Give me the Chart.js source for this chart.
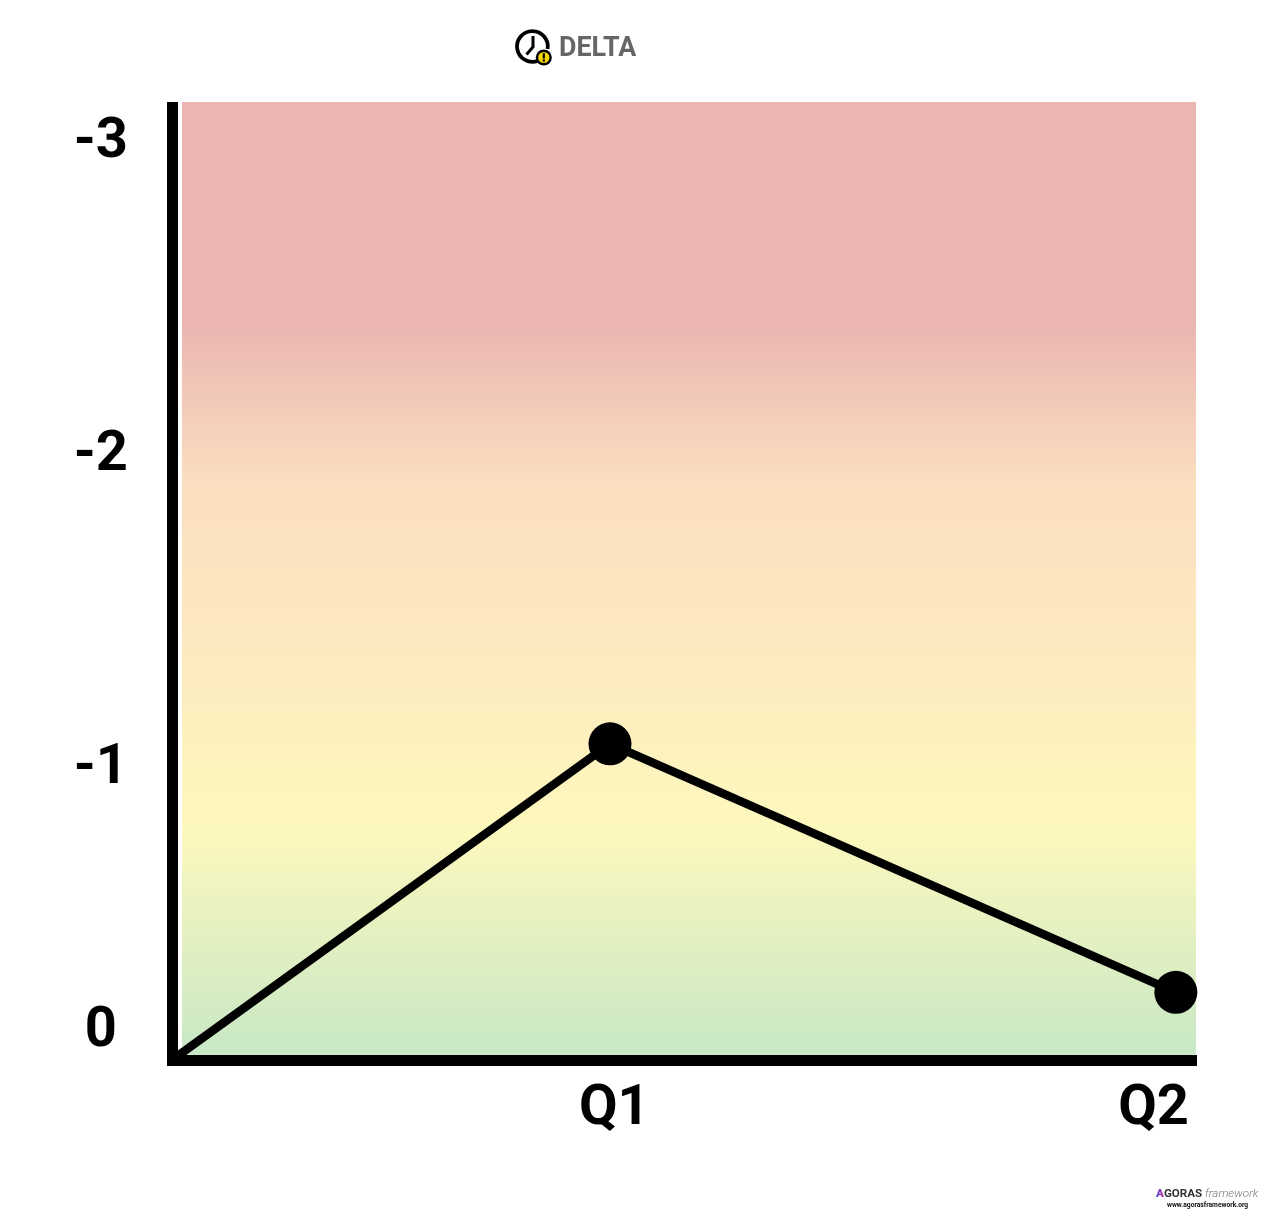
<!DOCTYPE html>
<html><head><meta charset="utf-8">
<script src="https://cdn.jsdelivr.net/npm/chart.js@4"></script>
<style>
html,body{margin:0;padding:0;background:#fff;width:1280px;height:1219px;overflow:hidden}
canvas{position:absolute;left:0;top:0}
.t{position:absolute;white-space:nowrap;font-family:Roboto,sans-serif}
</style></head><body>
<canvas id="c" width="1280" height="1219"></canvas>
<svg style="position:absolute;left:510px;top:25px" width="46" height="44" viewBox="510 25 46 44">
<path d="M538 60.8 A15.4 15.4 0 1 1 547.6 49" fill="none" stroke="#000" stroke-width="3.8"/>
<path d="M533 36 V47 L526.5 54.5" fill="none" stroke="#000" stroke-width="3"/>
<circle cx="543.8" cy="57.5" r="8" fill="#000"/><circle cx="543.8" cy="57.5" r="5.6" fill="#f5d800"/>
<rect x="542.7" y="53.3" width="2.2" height="5.2" fill="#000"/><rect x="542.7" y="59.4" width="2.2" height="2.2" fill="#000"/>
</svg>
<div class="t" style="left:559px;top:32px;font-size:26.8px;line-height:30px;font-weight:700;color:#666">DELTA</div>
<div class="t" style="left:1156px;top:1187px;font-size:11.6px;line-height:13px;color:#888"><span style="font-weight:900;background:linear-gradient(90deg,#3a4fd8,#d0209a);-webkit-background-clip:text;color:transparent">A</span><span style="font-weight:700;color:#333">GORAS</span> <i style="font-weight:300;color:#777">framework</i></div>
<div class="t" style="left:1167px;top:1201px;font-size:6.7px;line-height:8px;font-weight:700;color:#111">www.agorasframework.org</div>
<script>
const categories = ['', 'Q1', 'Q2'];
const xPositions = [0, 1, 2.292];
const seriesValues = [0, -0.99, -0.212];
const yTickLabels = ['-3', '-2', '-1', '0'];
const yTickLabelAt = [-2.871, -1.891, -0.911, -0.088];
const xTickLabels = ['Q1', 'Q2'];
const xTickLabelAt = [1.01, 2.241];
const xMax = 2.338;
const gradientStops = [[-3, '#ebb6b2'], [-2.3, '#ebb6b2'], [-1.8, '#fbdfc0'], [-1.45, '#fde6c0'], [-0.72, '#fdf8bd'], [-0.02, '#c8e8c6']];

const backdrop = {
  id: 'backdrop',
  beforeDatasetsDraw(chart) {
    const {ctx, chartArea: a, scales: {y}} = chart;
    const top = y.getPixelForValue(-3), bottom = y.getPixelForValue(-0.016);
    const g = ctx.createLinearGradient(0, top, 0, bottom);
    gradientStops.forEach(([v, c]) => g.addColorStop(Math.min(1, (y.getPixelForValue(v) - top) / (bottom - top)), c));
    ctx.save();
    ctx.fillStyle = g;
    ctx.fillRect(a.left + 10, top, a.right - a.left - 10, bottom - top);
    // the vertical axis stops level with the plot top, without Chart.js's half-width overhang
    ctx.clearRect(a.left - 8, top - 8, 16, 8);
    ctx.restore();
  }
};
const tickFont = {family: 'Roboto', weight: '700', size: 56};
new Chart(document.getElementById('c'), {
  type: 'scatter',
  plugins: [backdrop],
  data: {
    labels: categories,
    datasets: [{
      data: seriesValues.map((v, i) => ({x: xPositions[i], y: v})),
      showLine: true,
      borderColor: '#000', borderWidth: 8.5,
      backgroundColor: '#000',
      pointRadius: [0, 21.5, 21.5], pointHoverRadius: [0, 21.5, 21.5], pointBorderWidth: 0,
      clip: false
    }]
  },
  options: {
    responsive: false, animation: false,
    layout: {padding: {left: 0, right: 84, top: 102, bottom: 0}},
    plugins: {legend: {display: false}, title: {display: false}, tooltip: {enabled: false}},
    scales: {
      x: {
        type: 'linear', min: 0, max: xMax,
        grid: {display: false, drawTicks: false},
        border: {display: true, color: '#000', width: 11},
        afterBuildTicks: s => { s.ticks = xTickLabelAt.map(v => ({value: v})); },
        afterFit: s => { s.height = 159; },
        ticks: {
          autoSkip: false, maxRotation: 0, padding: 16, color: '#000', font: tickFont,
          callback: (v, i) => xTickLabels[i]
        }
      },
      y: {
        type: 'linear', min: -3, max: 0, reverse: true,
        grid: {display: false, drawTicks: false},
        border: {display: true, color: '#000', width: 11},
        afterBuildTicks: s => { s.ticks = yTickLabelAt.map(v => ({value: v})); },
        afterFit: s => { s.width = 172; },
        ticks: {
          autoSkip: false, padding: 44, crossAlign: 'center', color: '#000', font: tickFont,
          callback: (v, i) => yTickLabels[i]
        }
      }
    }
  }
});
</script>
</body></html>
